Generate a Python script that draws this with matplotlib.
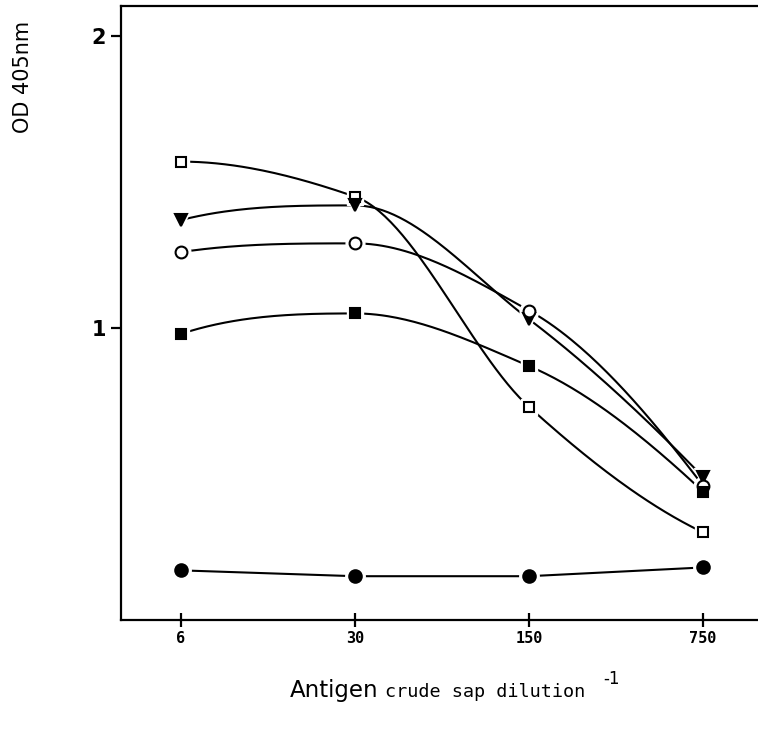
import numpy as np
import matplotlib
matplotlib.use("Agg")
import matplotlib.pyplot as plt

dilutions = ["6", "30", "150", "750"]
open_square = [1.57, 1.45, 0.73, 0.30]
triangle = [1.37, 1.42, 1.03, 0.49]
open_circle = [1.26, 1.29, 1.06, 0.46]
filled_square = [0.98, 1.05, 0.87, 0.44]
filled_circle = [0.17, 0.15, 0.15, 0.18]


def smooth(x, y, n=60):
    # monotone (pchip) curve through the points, only for the hand-drawn look
    x = np.asarray(x, float)
    y = np.asarray(y, float)
    h = np.diff(x)
    d = np.diff(y) / h
    k = len(x)
    m = np.zeros(k)
    for i in range(1, k - 1):
        if d[i - 1] * d[i] > 0:
            w1 = 2 * h[i] + h[i - 1]
            w2 = h[i] + 2 * h[i - 1]
            m[i] = (w1 + w2) / (w1 / d[i - 1] + w2 / d[i])
    for j, (a, b, hh0, hh1) in ((0, (d[0], d[1], h[0], h[1])),
                                (k - 1, (d[-1], d[-2], h[-1], h[-2]))):
        s = ((2 * hh0 + hh1) * a - hh0 * b) / (hh0 + hh1)
        if np.sign(s) != np.sign(a):
            s = 0
        elif np.sign(a) != np.sign(b) and abs(s) > abs(3 * a):
            s = 3 * a
        m[j] = s
    xs = np.linspace(x[0], x[-1], n * (k - 1))
    idx = np.clip(np.searchsorted(x, xs) - 1, 0, k - 2)
    t = (xs - x[idx]) / h[idx]
    h00 = 2 * t ** 3 - 3 * t ** 2 + 1
    h10 = t ** 3 - 2 * t ** 2 + t
    h01 = -2 * t ** 3 + 3 * t ** 2
    h11 = t ** 3 - t ** 2
    ys = (h00 * y[idx] + h10 * h[idx] * m[idx]
          + h01 * y[idx + 1] + h11 * h[idx] * m[idx + 1])
    return xs, ys


fig = plt.figure(figsize=(7.58, 7.30), dpi=100)
ax = fig.add_axes([121 / 758, 1 - 620 / 730, 1 - 121 / 758, 614 / 730])

xpos = np.arange(len(dilutions))

series = [
    (open_square, "s", "white", 7, True),
    (triangle, "v", "black", 8, True),
    (open_circle, "o", "white", 8.5, True),
    (filled_square, "s", "black", 7, True),
    (filled_circle, "o", "black", 9, False),
]

for vals, m, fc, ms, curved in series:
    if curved:
        sx, sy = smooth(xpos, vals)
    else:
        sx, sy = xpos, vals
    ax.plot(sx, sy, color="black", lw=1.5, zorder=2)
    # white halo leaves a small gap between line and marker
    ax.plot(xpos, vals, ls="none", marker=m, ms=ms + 5, mfc="white",
            mec="white", zorder=3)
    ax.plot(xpos, vals, ls="none", marker=m, ms=ms, mfc=fc, mec="black",
            mew=1.5, zorder=4)

ax.set_xlim(-0.345, 3.316)
ax.set_ylim(0, 2.103)
ax.set_xticks(xpos)
ax.set_xticklabels(dilutions, fontsize=11, fontweight="bold",
                   family="DejaVu Sans Mono")
ax.set_yticks([1, 2])
ax.set_yticklabels(["1", "2"], fontsize=15, fontweight="bold")
ax.tick_params(axis="y", direction="out", length=7, width=1.6, pad=4)
ax.tick_params(axis="x", direction="inout", length=10, width=1.6, pad=3)
ax.spines["right"].set_visible(False)
for s in ("left", "bottom", "top"):
    ax.spines[s].set_linewidth(1.6)

fig.text(23 / 758, 1 - 77 / 730, "OD 405nm", rotation=90, ha="center",
         va="center", fontsize=15)
fig.text(290 / 758, 1 - 690 / 730, "Antigen", ha="left", va="center",
         fontsize=16.5)
fig.text(385 / 758, 1 - 692 / 730, "crude sap dilution", ha="left",
         va="center", fontsize=13.3, family="DejaVu Sans Mono")
fig.text(603 / 758, 1 - 679 / 730, "-1", ha="left", va="center", fontsize=12)

fig.savefig("out.png", dpi=100)
